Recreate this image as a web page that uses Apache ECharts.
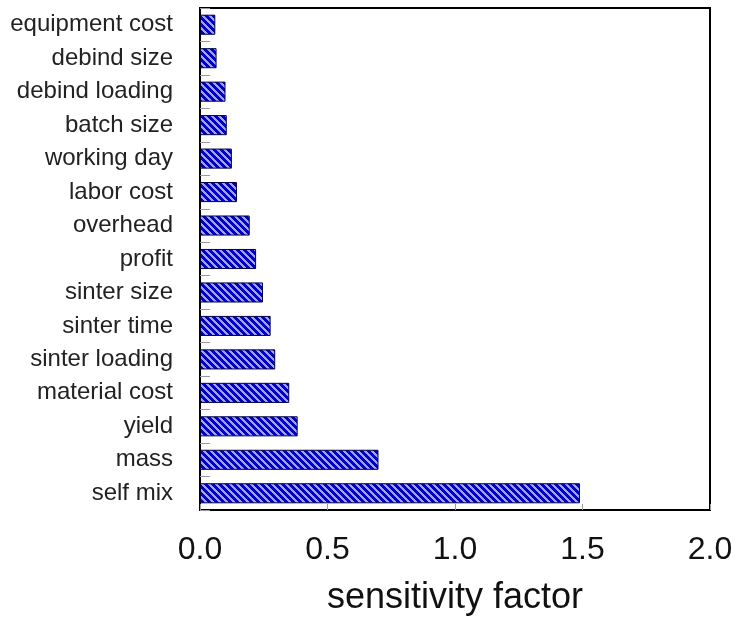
<!DOCTYPE html>
<html>
<head>
<meta charset="utf-8">
<script src="https://cdn.jsdelivr.net/npm/echarts@6/dist/echarts.min.js"></script>
<style>
  html, body { margin: 0; padding: 0; background: #fff; }
  #chart { width: 736px; height: 621px; }
</style>
</head>
<body>
<div id="chart"></div>
<script>
  var factors = ['equipment cost', 'debind size', 'debind loading', 'batch size', 'working day',
    'labor cost', 'overhead', 'profit', 'sinter size', 'sinter time', 'sinter loading',
    'material cost', 'yield', 'mass', 'self mix'];
  var sensitivity = [0.06, 0.065, 0.10, 0.105, 0.125, 0.145, 0.195, 0.22, 0.247, 0.277,
    0.295, 0.35, 0.383, 0.70, 1.49];
  var xTicks = [0, 0.5, 1.0, 1.5, 2.0];

  // diagonal hatch fill
  function hatch() {
    var n = 7;
    var c = document.createElement('canvas');
    c.width = n; c.height = n;
    var ctx = c.getContext('2d');
    for (var x = 0; x < n; x++) {
      for (var y = 0; y < n; y++) {
        ctx.fillStyle = ((x - y + n) % n) < 4 ? '#0000c8' : '#a0a0ff';
        ctx.fillRect(x, y, 1, 1);
      }
    }
    return c;
  }

  var myChart = echarts.init(document.getElementById('chart'));
  var option = {
    animation: false,
    grid: {
      left: 200, top: 8, width: 510, height: 504,
      show: true, borderColor: '#000', borderWidth: 2
    },
    xAxis: {
      type: 'value',
      min: xTicks[0],
      max: xTicks[xTicks.length - 1],
      interval: 0.5,
      name: 'sensitivity factor',
      nameLocation: 'middle',
      nameGap: 70,
      nameTextStyle: { fontSize: 36, color: '#111', fontFamily: 'Liberation Sans' },
      axisLine: { show: true, lineStyle: { color: '#000', width: 2 } },
      axisTick: { show: true, inside: true, length: 6, lineStyle: { color: '#999' } },
      axisLabel: {
        fontSize: 32, color: '#111', margin: 24, fontFamily: 'Liberation Sans',
        formatter: function (v) { return v.toFixed(1); }
      },
      splitLine: { show: false }
    },
    yAxis: {
      type: 'category',
      data: factors,
      inverse: true,
      axisLine: { show: true, lineStyle: { color: '#000', width: 2 } },
      axisTick: { show: true, inside: true, length: 10, lineStyle: { color: '#999' } },
      axisLabel: { fontSize: 24, color: '#222', margin: 27, fontFamily: 'Liberation Sans' }
    },
    series: [{
      type: 'bar',
      data: sensitivity,
      barWidth: '60%',
      itemStyle: {
        color: { image: hatch(), repeat: 'repeat' },
        borderColor: '#000040',
        borderWidth: 1
      }
    }]
  };
  myChart.setOption(option);
</script>
</body>
</html>
